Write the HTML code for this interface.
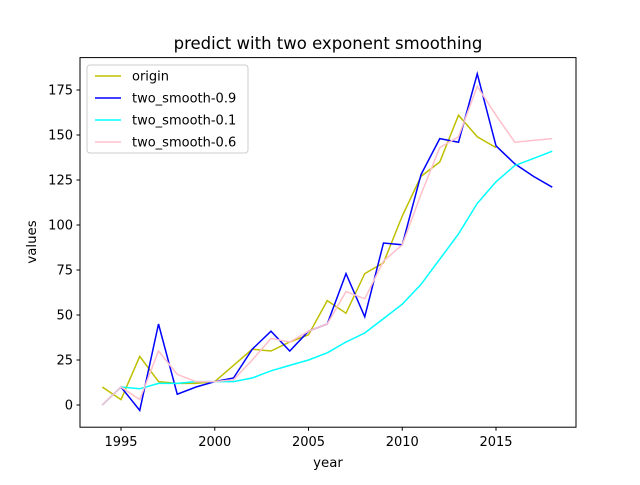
<!DOCTYPE html>
<html><head><meta charset="utf-8"><style>
body{margin:0;background:#fff}
svg{font-family:"DejaVu Sans","Liberation Sans",sans-serif}
</style></head><body>
<svg id="chart" width="640" height="480" viewBox="0 0 640 480">
<rect width="640" height="480" fill="#fff"/>
<text x="328" y="49" font-size="16.5" text-anchor="middle">predict with two exponent smoothing</text>
<g id="plot"></g>
<rect x="80" y="57.6" width="496" height="369.6" fill="none" stroke="#000" stroke-width="1"/>
<g id="axes"></g>
<text x="328" y="467" font-size="13.3" text-anchor="middle">year</text>
<text x="36" y="242" font-size="13.3" text-anchor="middle" transform="rotate(-90 36 242)">values</text>
<g id="legend"></g>
</svg>
<script>
const years=[1994,1995,1996,1997,1998,1999,2000,2001,2002,2003,2004,2005,2006,2007,2008,2009,2010,2011,2012,2013,2014,2015,2016,2017,2018];
const origin=[10,3,27,13,12,12,13,22,31,30,35,39,58,51,73,79,105,127,135,161,149,143];
const smooth09=[0,10,-3,45,6,10,13,15,31,41,30,41,45,73,49,90,89,128,148,146,184,144,134,127,121];
const smooth01=[0,10,9,12,12,13,13,13,15,19,22,25,29,35,40,48,56,67,81,95,112,124,133,137,141];
const smooth06=[0,10,3,30,17,13,13,14,25,37,35,41,45,63,59,80,89,117,143,149,177,161,146,147,148];
const xTicks=[1995,2000,2005,2010,2015];
const yTicks=[0,25,50,75,100,125,150,175];
const seriesNames=["origin","two_smooth-0.9","two_smooth-0.1","two_smooth-0.6"];
const colors=["#bfbf00","#0000ff","#00ffff","#ffc0cb"];
const NS="http://www.w3.org/2000/svg";
const xs=y=>102.25+(y-1994)*18.75;
const ys=v=>405-v*1.8;
function mk(t,a,p){const e=document.createElementNS(NS,t);for(const k in a)e.setAttribute(k,a[k]);p.appendChild(e);return e;}
const plot=document.getElementById('plot'),axes=document.getElementById('axes'),legend=document.getElementById('legend');
const all=[origin,smooth09,smooth01,smooth06];
all.forEach((s,i)=>{
 const pts=s.map((v,j)=>xs(years[j]).toFixed(2)+','+ys(v).toFixed(2)).join(' ');
 const pl=mk('polyline',{points:pts,fill:'none',stroke:colors[i],'stroke-width':1.5},plot);
 
 
});
xTicks.forEach(t=>{
 const x=xs(t);
 const l=mk('line',{x1:x,x2:x,y1:427.2,y2:430.7,stroke:'#000'},axes);
 
 
 const tx=mk('text',{x:x,y:446,'font-size':13,'text-anchor':'middle'},axes);tx.textContent=t;
 
 
});
yTicks.forEach(t=>{
 const y=ys(t);
 const l=mk('line',{x1:76.5,x2:80,y1:y,y2:y,stroke:'#000'},axes);
 
 
 const tx=mk('text',{x:73,y:y+4.5,'font-size':13,'text-anchor':'end'},axes);tx.textContent=t;
 
 
});
const box=mk('rect',{x:87,y:65,width:161,height:88,rx:3,fill:'#fff','fill-opacity':0.8,stroke:'#ccc'},legend);


seriesNames.forEach((n,i)=>{
 const y=76+i*22;
 const l=mk('line',{x1:95,x2:121,y1:y,y2:y,stroke:colors[i],'stroke-width':1.5},legend);
 
 
 const tx=mk('text',{x:132,y:y+4.5,'font-size':13},legend);tx.textContent=n;
 
 
});
</script>
</body></html>
